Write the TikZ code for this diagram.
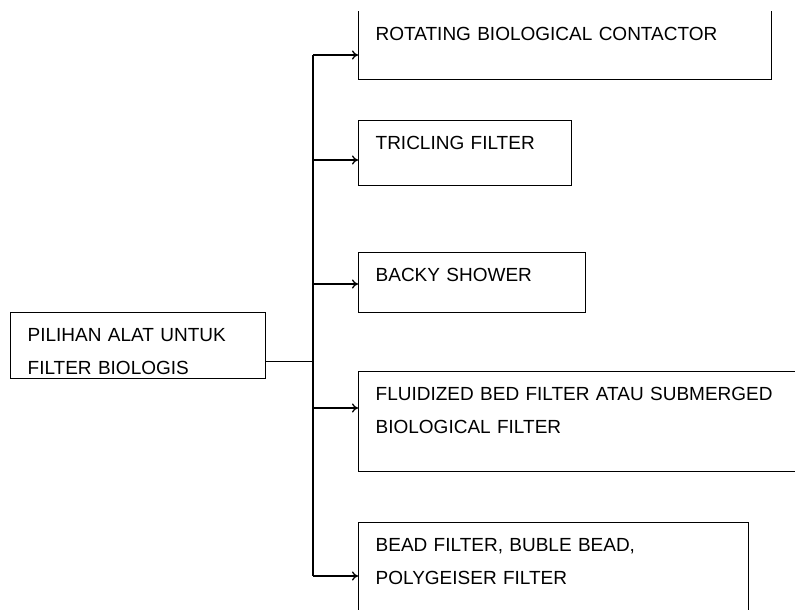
\documentclass[tikz,border=0pt]{standalone}
\usepackage{fontspec}
\setmainfont{Liberation Sans}
\usetikzlibrary{arrows.meta}

\tikzset{
    optbox/.style={draw, line width=1.3pt, anchor=north west, align=left,
        inner xsep=17pt, inner ysep=0pt, text height=29pt,
        font=\fontsize{19}{33}\selectfont},
}

\begin{document}
\begin{tikzpicture}[x=1pt, y=-1pt, line width=1.3pt, >={To[length=6pt, width=9pt]}]
    \useasboundingbox (0, 0) rectangle (795, 610);
    \clip (0, 12) rectangle (795, 610);

    \node [optbox, text width=221pt, text depth=37pt] (src) at (10, 312)
        {PILIHAN ALAT UNTUK\\FILTER BIOLOGIS};

    \node [optbox, text width=379pt, text height=35pt, text depth=39pt] (rbc) at (358, 5)
        {ROTATING BIOLOGICAL CONTACTOR};
    \node [optbox, text width=179pt, text depth=36pt]  (tri)  at (358, 120)
        {TRICLING FILTER};
    \node [optbox, text width=193pt, text depth=31pt]  (bky)  at (358, 252)
        {BACKY SHOWER};
    \node [optbox, text width=466pt, text depth=71pt]  (flu)  at (358, 371)
        {FLUIDIZED BED FILTER ATAU SUBMERGED\\BIOLOGICAL FILTER};
    \node [optbox, text width=356pt, text depth=121pt] (bead) at (358, 522)
        {BEAD FILTER, BUBLE BEAD,\\POLYGEISER FILTER};

    \coordinate (j) at (313, 361.5);
    \draw (src.east |- j) -- (j);

    \foreach \opt/\y in {rbc/55, tri/160, bky/284, flu/408, bead/576} {
        \coordinate (t-\opt) at (313, \y);
        \draw [->] (t-\opt) -- (t-\opt -| \opt.west);
        }

    \draw (t-rbc) -- (t-bead);
\end{tikzpicture}
\end{document}
